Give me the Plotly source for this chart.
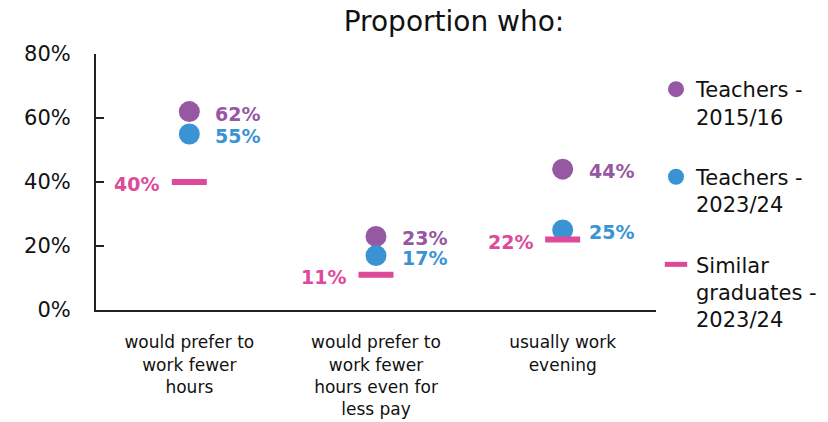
import plotly.graph_objects as go

categories = ["would prefer to<br>work fewer<br>hours",
              "would prefer to<br>work fewer<br>hours even for<br>less pay",
              "usually work<br>evening"]
series_names = ["Teachers -<br>2015/16", "Teachers -<br>2023/24", "Similar<br>graduates -<br>2023/24"]
teachers_2015 = [62, 23, 44]
teachers_2023 = [55, 17, 25]
graduates_2023 = [40, 11, 22]
y_ticks = [0, 20, 40, 60, 80]

colors = ["#9657A3", "#3A94D3", "#DE4A9A"]
FONT = "DejaVu Sans"

x_idx = list(range(len(categories)))
fig = go.Figure()

series = [teachers_2015, teachers_2023, graduates_2023]
symbols = ["circle", "circle", "line-ew"]
for i, (vals, name, sym) in enumerate(zip(series, series_names, symbols)):
    if sym == "circle":
        marker = dict(symbol="circle", size=21, color=colors[i], line=dict(width=0))
    else:
        marker = dict(symbol="line-ew", size=25, color=colors[i],
                      line=dict(width=6, color=colors[i]))
    fig.add_trace(go.Scatter(x=x_idx, y=vals, mode="markers", name=name,
                             marker=marker, legendgroup=f"g{i}", hoverinfo="skip"))

annotations = []
for i, vals in enumerate(series):
    right = i < 2
    for xi, v in zip(x_idx, vals):
        annotations.append(dict(
            x=xi, y=v, xref="x", yref="y", text=f"{v}%", showarrow=False,
            xanchor="left" if right else "right",
            xshift=24 if right else -28, yshift=-2,
            font=dict(family=FONT, size=19, color=colors[i], weight="bold")))

fig.update_layout(
    width=828, height=422,
    margin=dict(l=96, r=172, t=54, b=112, autoexpand=False),
    paper_bgcolor="white", plot_bgcolor="white",
    font=dict(family=FONT, color="#111"),
    title=dict(text="Proportion who:", x=454/828, xref="container", xanchor="center",
               y=1-21/422, yref="container", yanchor="middle",
               font=dict(family=FONT, size=28, color="#111")),
    xaxis=dict(tickvals=x_idx, ticktext=categories, range=[-0.5, 2.5], automargin=False,
               showgrid=False, zeroline=False, showline=True, linecolor="#222", linewidth=2,
               ticks="", tickfont=dict(family=FONT, size=17, color="#111"),
               ticklabelstandoff=16),
    yaxis=dict(range=[0, 80], tickvals=y_ticks, ticktext=[f"{t}%" for t in y_ticks], automargin=False,
               showgrid=False, zeroline=False, showline=True, linecolor="#222", linewidth=2,
               ticks="inside", ticklen=8, tickwidth=2, tickcolor="#222",
               tickfont=dict(family=FONT, size=21, color="#111"),
               ticklabelstandoff=19),
    legend=dict(xref="container", x=656/828, xanchor="left",
                yref="container", y=1-69/422, yanchor="top",
                valign="top", tracegroupgap=30, maxheight=400,
                font=dict(family=FONT, size=21, color="#111"),
                bgcolor="rgba(0,0,0,0)"),
    annotations=annotations,
    showlegend=True,
)

fig.write_html("out.html", post_script="document.body.style.margin='0';",
               config={"displayModeBar": False})
